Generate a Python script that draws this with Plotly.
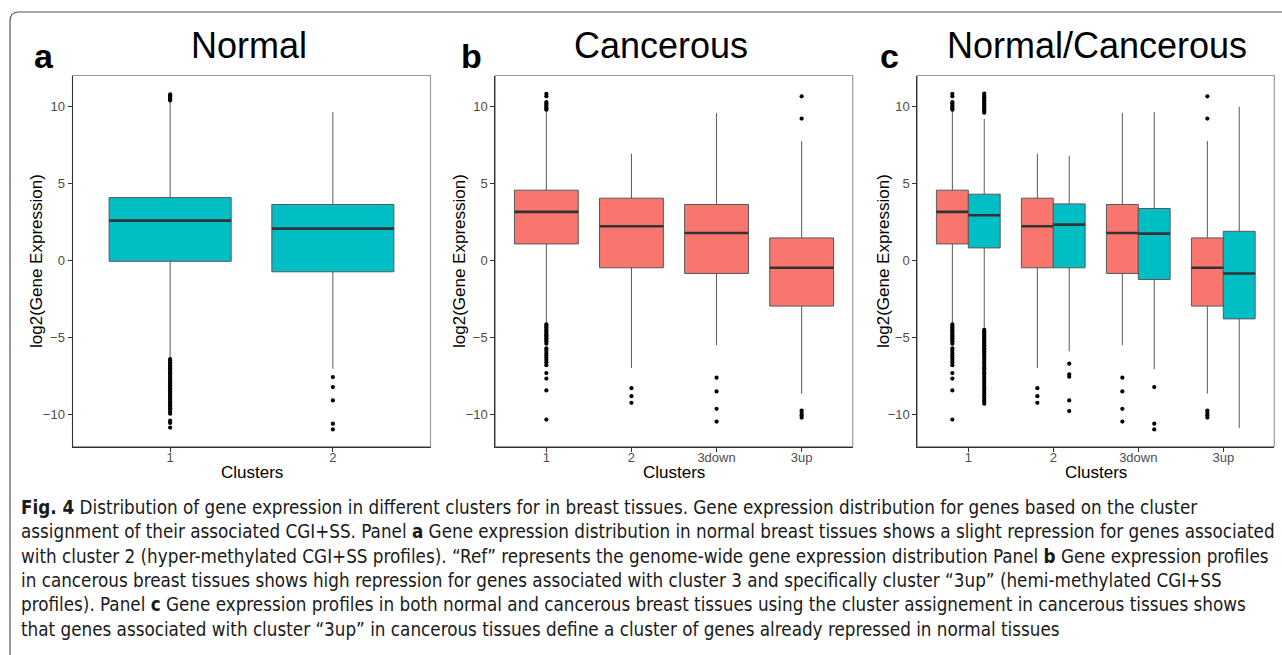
import plotly.graph_objects as go

W, H = 1282, 655

# ---------------- data ----------------
categories_a = ["1", "2"]
categories_bc = ["1", "2", "3down", "3up"]

# Panel a: normal tissues, normal clusters
a_q1 = [-0.05, -0.73]
a_median = [2.59, 2.07]
a_q3 = [4.09, 3.64]
a_lower = [-6.3, -7.03]
a_upper = [10.3, 9.63]
a_outliers = [
    [10.4, 10.48, 10.56, 10.64, 10.72, 10.8,
     -6.4, -6.5, -6.6, -6.7, -6.8, -6.9, -7.0, -7.1, -7.2, -7.3, -7.4, -7.5, -7.6,
     -7.7, -7.8, -7.9, -8.0, -8.1, -8.2, -8.3, -8.4, -8.5, -8.6, -8.7, -8.8, -8.9,
     -9.0, -9.1, -9.2, -9.3, -9.4, -9.5, -9.6, -9.7, -9.8, -9.95, -10.4, -10.55, -10.85],
    [-7.57, -8.22, -9.09, -10.6, -10.97],
]

# Cancerous tissues (panel b and red boxes of panel c)
c_q1 = [1.08, -0.47, -0.84, -2.96]
c_median = [3.16, 2.23, 1.79, -0.47]
c_q3 = [4.57, 4.05, 3.64, 1.47]
c_lower = [-4.05, -6.98, -5.5, -8.65]
c_upper = [9.7, 6.94, 9.59, 7.76]
c_outliers = [
    [9.8, 9.9, 10.0, 10.1, 10.2, 10.3, 10.67, 10.83,
     -4.15, -4.25, -4.35, -4.45, -4.55, -4.65, -4.75, -4.85, -4.95, -5.05, -5.15,
     -5.25, -5.4, -5.7, -5.85, -6.0, -6.15, -6.3, -6.45, -6.6, -6.8, -7.31, -7.67,
     -8.44, -10.33],
    [-8.29, -8.81, -9.24],
    [-7.61, -8.5, -9.63, -10.46],
    [10.67, 9.22, -9.74, -9.9, -10.05, -10.2],
]

# Normal tissues with cancerous cluster assignment (cyan boxes of panel c)
n_q1 = [0.82, -0.47, -1.23, -3.79]
n_median = [2.94, 2.33, 1.75, -0.84]
n_q3 = [4.31, 3.68, 3.38, 1.9]
n_lower = [-4.4, -5.9, -7.05, -10.89]
n_upper = [9.2, 6.81, 9.63, 9.98]
n_outliers = [
    [9.6, 9.7, 9.8, 9.9, 10.0, 10.1, 10.2, 10.3, 10.4, 10.5, 10.6, 10.7, 10.85,
     -4.5, -4.6, -4.7, -4.8, -4.9, -5.0, -5.1, -5.2, -5.3, -5.4, -5.5, -5.6, -5.7,
     -5.8, -5.9, -6.0, -6.1, -6.2, -6.3, -6.45, -6.6, -6.75, -6.9, -7.0, -7.1,
     -7.25, -7.4, -7.55, -7.7, -7.85, -8.0, -8.15, -8.3, -8.45, -8.6, -8.75, -8.9,
     -9.05, -9.15, -9.3],
    [-6.7, -7.4, -7.55, -9.09, -9.78],
    [-8.22, -10.6, -10.97],
    [],
]

panel_titles = ["Normal", "Cancerous", "Normal/Cancerous"]
panel_letters = ["a", "b", "c"]
y_ticks = [-10, -5, 0, 5, 10]
y_ticktext = ["\u221210", "\u22125", "0", "5", "10"]

caption_lines = [
    "<b>Fig. 4</b> Distribution of gene expression in different clusters for in breast tissues. Gene expression distribution for genes based on the cluster",
    "assignment of their associated CGI+SS. Panel <b>a</b> Gene expression distribution in normal breast tissues shows a slight repression for genes associated",
    "with cluster 2 (hyper-methylated CGI+SS profiles). \u201cRef\u201d represents the genome-wide gene expression distribution Panel <b>b</b> Gene expression profiles",
    "in cancerous breast tissues shows high repression for genes associated with cluster 3 and specifically cluster \u201c3up\u201d (hemi-methylated CGI+SS",
    "profiles). Panel <b>c</b> Gene expression profiles in both normal and cancerous breast tissues using the cluster assignement in cancerous tissues shows",
    "that genes associated with cluster \u201c3up\u201d in cancerous tissues define a cluster of genes already repressed in normal tissues",
]

# ---------------- style ----------------
RED = "#F8766D"
CYAN = "#00BFC4"
FONT = "Liberation Sans"
CAP_FONT = "DejaVu Sans Condensed"


def px(x):
    return x / W


def py(y):
    return 1 - y / H


fig = go.Figure()


def add_boxes(axis_n, cats, q1, med, q3, lo, up, outl, color, offset, width):
    xa = "x" if axis_n == 1 else f"x{axis_n}"
    ya = "y" if axis_n == 1 else f"y{axis_n}"
    for i, _ in enumerate(cats):
        pos = i + 1 + offset
        fig.add_trace(go.Box(
            x=[pos], q1=[q1[i]], median=[med[i]], q3=[q3[i]],
            lowerfence=[lo[i]], upperfence=[up[i]],
            width=width, whiskerwidth=0, boxpoints=False,
            fillcolor=color, line=dict(color="#595959", width=1),
            xaxis=xa, yaxis=ya, showlegend=False, hoverinfo="skip",
        ))
        # thicker median line
        fig.add_trace(go.Scatter(
            x=[pos - width / 2, pos + width / 2], y=[med[i], med[i]],
            mode="lines", line=dict(color="#333333", width=2.6),
            xaxis=xa, yaxis=ya, showlegend=False, hoverinfo="skip",
        ))
        if outl[i]:
            fig.add_trace(go.Scatter(
                x=[pos] * len(outl[i]), y=outl[i], mode="markers",
                marker=dict(color="black", size=4.2, line=dict(width=0)),
                xaxis=xa, yaxis=ya, showlegend=False, hoverinfo="skip",
            ))


add_boxes(1, categories_a, a_q1, a_median, a_q3, a_lower, a_upper, a_outliers, CYAN, 0, 0.75)
add_boxes(2, categories_bc, c_q1, c_median, c_q3, c_lower, c_upper, c_outliers, RED, 0, 0.75)
add_boxes(3, categories_bc, c_q1, c_median, c_q3, c_lower, c_upper, c_outliers, RED, -0.1875, 0.375)
add_boxes(3, categories_bc, n_q1, n_median, n_q3, n_lower, n_upper, n_outliers, CYAN, 0.1875, 0.375)

x_domains = [(72.5, 430.5), (495.3, 852.7), (917.3, 1274.3)]
y_dom = [py(446.5), py(75.5)]
cats_per_panel = [categories_a, categories_bc, categories_bc]

layout = dict(
    width=W, height=H, margin=dict(l=0, r=0, t=0, b=0),
    paper_bgcolor="white", plot_bgcolor="white",
    font=dict(family=FONT, color="black"),
    showlegend=False,
)
shapes = []
annotations = []
for k in range(3):
    n = "" if k == 0 else str(k + 1)
    cats = cats_per_panel[k]
    layout["xaxis" + n] = dict(
        domain=[px(x_domains[k][0]), px(x_domains[k][1])],
        anchor="y" + n, range=[0.4, len(cats) + 0.6],
        tickvals=[i + 1 for i in range(len(cats))], ticktext=cats,
        showline=True, linecolor="#333333", linewidth=1,
        ticks="outside", ticklen=4, tickcolor="#333333",
        ticklabelstandoff=-5,
        tickfont=dict(size=13, color="#4d4d4d", family=FONT),
        showgrid=False, zeroline=False, fixedrange=True,
    )
    layout["yaxis" + n] = dict(
        domain=y_dom, anchor="x" + n, range=[-12.08, 12.02],
        tickvals=y_ticks, ticktext=y_ticktext,
        showline=True, linecolor="#333333", linewidth=1,
        ticks="outside", ticklen=4, tickcolor="#333333",
        tickfont=dict(size=13, color="#4d4d4d", family=FONT),
        showgrid=False, zeroline=False, fixedrange=True,
    )
    # panel border (top / right in gray)
    shapes.append(dict(type="rect", xref=f"x{n} domain", yref=f"y{n} domain",
                       x0=0, x1=1, y0=0, y1=1, line=dict(color="#9a9a9a", width=1.2),
                       layer="below"))
    xc = (x_domains[k][0] + x_domains[k][1]) / 2
    annotations.append(dict(text="Clusters", x=px(xc), y=py(472), xref="paper", yref="paper",
                            showarrow=False, font=dict(size=17, family=FONT, color="black"),
                            xanchor="center", yanchor="middle"))

title_x = [249, 661, 1096.5]
letter_x = [44, 471.5, 889]
ylab_x = [36, 459, 883]
for k in range(3):
    annotations.append(dict(text=panel_titles[k], x=px(title_x[k]), y=py(45), xref="paper", yref="paper",
                            showarrow=False, font=dict(size=36, family=FONT, color="black"),
                            xanchor="center", yanchor="middle"))
    annotations.append(dict(text="<b>" + panel_letters[k] + "</b>", x=px(letter_x[k]), y=py(56),
                            xref="paper", yref="paper", showarrow=False,
                            font=dict(size=34, family=FONT, color="black"),
                            xanchor="center", yanchor="middle"))
    annotations.append(dict(text="log2(Gene Expression)", x=px(ylab_x[k]), y=py(261), xref="paper",
                            yref="paper", showarrow=False, textangle=-90,
                            font=dict(size=17, family=FONT, color="black"),
                            xanchor="center", yanchor="middle"))

cap_y = [507, 531.5, 556, 580.3, 604.6, 629]
for line, yy in zip(caption_lines, cap_y):
    annotations.append(dict(text=line, x=px(19), y=py(yy), xref="paper", yref="paper",
                            showarrow=False, font=dict(size=18.7, family=CAP_FONT, color="#1a1a1a"),
                            xanchor="left", yanchor="middle", align="left"))

# outer frame with rounded top-left corner
fx, fy, r = 10, 12, 9
path = (f"M {px(fx)},{py(H + 2)} L {px(fx)},{py(fy + r)} "
        f"Q {px(fx)},{py(fy)} {px(fx + r)},{py(fy)} L {px(W + 2)},{py(fy)}")
shapes.append(dict(type="path", xref="paper", yref="paper", path=path,
                   line=dict(color="#555555", width=1.2)))

layout["shapes"] = shapes
layout["annotations"] = annotations
fig.update_layout(**layout)

fig.write_html("out.html")
